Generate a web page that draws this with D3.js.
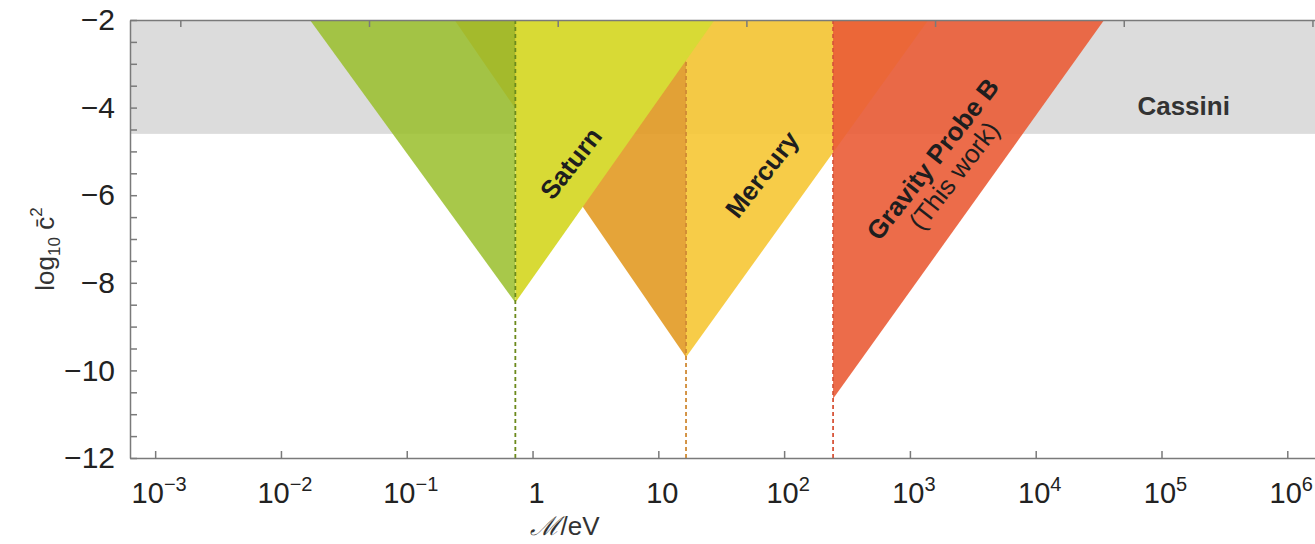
<!DOCTYPE html>
<html>
<head>
<meta charset="utf-8">
<script src="https://cdn.jsdelivr.net/npm/d3@7"></script>
<style>
  body { margin: 0; background: #fff; }
  svg { display: block; font-family: 'Liberation Sans', Arial, sans-serif; }
</style>
</head>
<body>
<div id="chart"></div>
<script>
const width = 1315;
const height = 544;

// data
const probes = ['Saturn', 'Mercury', 'Gravity Probe B'];
const vertexMass = [0.73, 16.6, 245];        // eV, position of the dashed line / tip
const vertexLogC2 = [-8.45, -9.7, -10.65];   // log10 c^2 at the tip
const leftEdgeMass = [0.017, 0.24, null];    // where the left edge meets log10 c^2 = -2
const rightEdgeMass = [28, 1400, 35000];     // where the right edge meets log10 c^2 = -2
const cassiniLimit = -4.6;
const topLogC2 = -2;

const xTickExp = [-3, -2, -1, 0, 1, 2, 3, 4, 5, 6];
const topTickExp = [-2.8, -1.3, 0.2, 1.7, 3.2, 4.7, 6.2];
const yTicks = d3.range(-12, -1.9, 0.5);

const x = d3.scaleLog().domain([Math.pow(10, -3.2), Math.pow(10, 6.26)]).range([130, 1320]);
const y = d3.scaleLinear().domain([-12, -2]).range([458, 20]);

const svg = d3.select('#chart')
    .append('svg')
    .attr('width', width)
    .attr('height', height);

// Cassini band
svg.append('rect')
    .attr('x', x.range()[0])
    .attr('y', y(topLogC2))
    .attr('width', x.range()[1] - x.range()[0])
    .attr('height', y(cassiniLimit) - y(topLogC2))
    .attr('fill', '#dcdcdc');

const line = d3.line().x(d => x(d[0])).y(d => y(d[1]));

function halves(i) {
    const lh = leftEdgeMass[i] == null ? null :
        [[vertexMass[i], vertexLogC2[i]], [leftEdgeMass[i], topLogC2], [vertexMass[i], topLogC2]];
    const rh = [[vertexMass[i], vertexLogC2[i]], [vertexMass[i], topLogC2], [rightEdgeMass[i], topLogC2]];
    return { lh, rh };
}

const style = {
    'Saturn': { left: '#99be2a', leftOp: 0.85, right: '#d8da35', rightOp: 1, dash: '#6c8a1c' },
    'Mercury': { left: '#e29a24', leftOp: 0.9, right: '#f6c734', rightOp: 0.9, dash: '#d08a34' },
    'Gravity Probe B': { left: null, leftOp: 0, right: '#ea5c36', rightOp: 0.9, dash: '#d8553a' }
};

// draw order: Mercury, Saturn, Gravity Probe B
[1, 0, 2].forEach(i => {
    const s = style[probes[i]];
    const h = halves(i);
    const g = svg.append('g').attr('class', 'probe');
    if (h.lh) {
        g.append('path')
            .attr('d', line(h.lh) + 'Z')
            .attr('fill', s.left)
            .attr('fill-opacity', s.leftOp);
    }
    g.append('path')
        .attr('d', line(h.rh) + 'Z')
        .attr('fill', s.right)
        .attr('fill-opacity', s.rightOp);
    g.append('line')
        .attr('x1', x(vertexMass[i]))
        .attr('x2', x(vertexMass[i]))
        .attr('y1', y(topLogC2))
        .attr('y2', y(-12))
        .attr('stroke', s.dash)
        .attr('stroke-width', 1.8)
        .attr('stroke-dasharray', '4,3');
});

// axes
const axisColor = '#7a7a7a';

const bottomAxis = svg.append('g')
    .attr('transform', 'translate(0,' + y(-12) + ')')
    .call(d3.axisBottom(x)
        .tickValues(xTickExp.map(e => Math.pow(10, e)))
        .tickSizeInner(-7)
        .tickSizeOuter(0)
        .tickFormat(''));

const topAxis = svg.append('g')
    .attr('transform', 'translate(0,' + y(-2) + ')')
    .call(d3.axisTop(x)
        .tickValues(topTickExp.map(e => Math.pow(10, e)))
        .tickSizeInner(-7)
        .tickSizeOuter(0)
        .tickFormat(''));

const leftAxis = svg.append('g')
    .attr('transform', 'translate(' + x.range()[0] + ',0)')
    .call(d3.axisLeft(y)
        .tickValues(yTicks)
        .tickSizeInner(-7)
        .tickSizeOuter(0)
        .tickPadding(15)
        .tickFormat(d => (d % 2 === 0 ? d3.format('d')(d) : '')));

[bottomAxis, topAxis, leftAxis].forEach(a => {
    a.selectAll('path, line').attr('stroke', axisColor).attr('stroke-width', 1.5);
});

leftAxis.selectAll('text')
    .attr('font-size', 30)
    .attr('fill', '#222')
    .attr('font-family', 'Liberation Sans, Arial, sans-serif');

// bottom tick labels with superscripts
const xLabels = svg.append('g')
    .selectAll('text')
    .data(xTickExp)
    .enter()
    .append('text')
    .attr('x', d => x(Math.pow(10, d)) + 4)
    .attr('y', 503)
    .attr('text-anchor', 'middle')
    .attr('font-size', 29)
    .attr('fill', '#222');

xLabels.each(function (e) {
    const t = d3.select(this);
    if (e === 0) { t.text('1'); return; }
    if (e === 1) { t.text('10'); return; }
    t.append('tspan').text('10');
    t.append('tspan')
        .attr('font-size', 20)
        .attr('dy', -12)
        .text(e < 0 ? '\u2212' + Math.abs(e) : e);
});

// axis titles
svg.append('text')
    .attr('x', 565)
    .attr('y', 535)
    .attr('text-anchor', 'middle')
    .attr('font-size', 26)
    .attr('fill', '#333')
    .html('<tspan font-family="DejaVu Serif" font-style="italic">\u2133</tspan>/eV');

const yTitle = svg.append('text')
    .attr('transform', 'translate(54,249) rotate(-90)')
    .attr('text-anchor', 'middle')
    .attr('font-size', 26)
    .attr('fill', '#333');
yTitle.append('tspan').text('log');
yTitle.append('tspan').attr('font-size', 17).attr('dy', 6).text('10');
yTitle.append('tspan').attr('dy', -6).text(' c\u0304');
yTitle.append('tspan').attr('font-size', 17).attr('dy', -12).text('2');

// region labels
function rotLabel(mx, ly, lines) {
    const g = svg.append('g')
        .attr('transform', 'translate(' + x(mx) + ',' + y(ly) + ') rotate(-52)');
    lines.forEach(l => {
        g.append('text')
            .attr('text-anchor', 'middle')
            .attr('y', l.dy)
            .attr('font-size', 26)
            .attr('font-weight', l.bold ? 'bold' : 'normal')
            .attr('fill', '#1e1e1e')
            .text(l.text);
    });
}

rotLabel(2.3, -5.4, [{ text: 'Saturn', bold: true, dy: 0 }]);
rotLabel(76, -5.65, [{ text: 'Mercury', bold: true, dy: 0 }]);
rotLabel(1730, -5.3, [
    { text: 'Gravity Probe B', bold: true, dy: 0 },
    { text: '(This work)', bold: false, dy: 27 }
]);

svg.append('text')
    .attr('x', x(1.5e5))
    .attr('y', y(-3.9) + 12)
    .attr('text-anchor', 'middle')
    .attr('font-size', 26)
    .attr('font-weight', 'bold')
    .attr('fill', '#333')
    .text('Cassini');
</script>
</body>
</html>
